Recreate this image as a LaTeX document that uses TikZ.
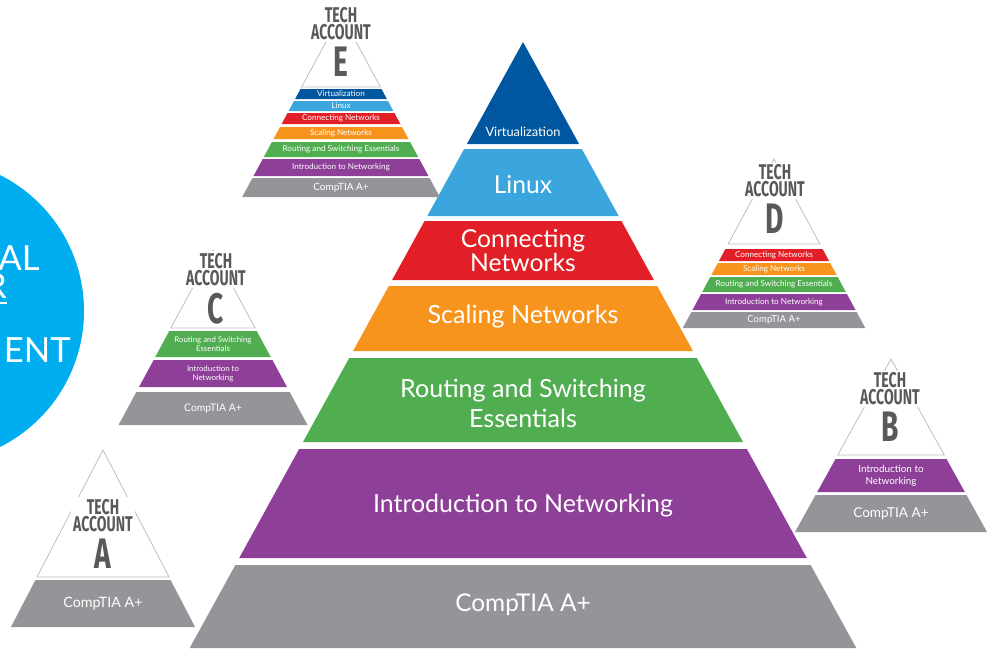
\documentclass[tikz,border=0pt]{standalone}
\usepackage{fontspec}
\setmainfont{Lato}
\newfontfamily\techfont[FakeStretch=0.66]{Fira Sans}
\usetikzlibrary{positioning}
\definecolor{virtblue}{RGB}{0,87,160}
\definecolor{linuxblue}{RGB}{58,166,221}
\definecolor{connred}{RGB}{226,31,38}
\definecolor{scaleorange}{RGB}{247,148,29}
\definecolor{routegreen}{RGB}{80,174,80}
\definecolor{intropurple}{RGB}{142,63,151}
\definecolor{comptiagray}{RGB}{147,149,152}
\definecolor{circlecyan}{RGB}{0,174,239}
\definecolor{techgray}{RGB}{88,89,91}
\definecolor{linegray}{RGB}{188,190,192}
\newcommand{\fs}[2]{\fontsize{#1}{#2}\selectfont}
\newcommand{\pband}[7]{%
  \fill[#3] ({\pcx-\pslope*(#1-\pay)},#1) -- ({\pcx+\pslope*(#1-\pay)},#1)
    -- ({\pcx+\pslope*(#2-\pay)},#2) -- ({\pcx-\pslope*(#2-\pay)},#2) -- cycle;
  \node[lbl, font=#6] (#4) at (\pcx,#5) {#7};}
\newcommand{\poutline}[1]{%
  \draw[outl] (\pcx,\pay) -- ({\pcx-\pslope*(#1-\pay)},#1) -- ({\pcx+\pslope*(#1-\pay)},#1) -- cycle;}

\begin{document}
\begin{tikzpicture}[x=0.75pt, y=-0.75pt,
  lbl/.style={text=white, align=center, inner sep=0pt},
  tech/.style={fill=white, text=techgray, align=center, inner sep=1.5pt, font=\techfont\bfseries\fs{16}{12.8}},
  techletter/.style={fill=white, text=techgray, inner sep=1.5pt, font=\techfont\bfseries\fs{32}{32}},
  outl/.style={draw=linegray, line width=0.6pt, fill=white},
  circtext/.style={text=white, inner sep=0pt, font=\fs{26}{30}}
]
  \useasboundingbox (0,0) rectangle (987,650);
  \clip (0,0) rectangle (987,650);

  \fill[circlecyan] (-68,311) circle[radius=114pt];
  \node[circtext, anchor=base east] (al) at (40,270) {AL};
  \node[circtext, anchor=base east] (r) at (7,298) {R};
  \draw[white, line width=1.1pt] ([yshift=-3.8pt]r.base west) -- ([yshift=-3.8pt]r.base east);
  \node[circtext, anchor=base east] (ent) at (71,362) {ENT};

  \def\pcx{523}\def\pay{42}\def\pslope{0.55}
  \pband{42}{144}{virtblue}{virt}{132}{\fs{9.6}{11}}{Virtualization}
  \pband{149}{216}{linuxblue}{linux}{185}{\fs{18.5}{22}}{Linux}
  \pband{221}{280}{connred}{conn}{251}{\fs{18.5}{16.5}}{Connecting\\Networks}
  \pband{286}{351}{scaleorange}{scale}{317}{\fs{18.8}{22}}{Scaling Networks}
  \pband{358}{442}{routegreen}{route}{403}{\fs{18.8}{22.5}}{Routing and Switching\\Essentials}
  \pband{449}{558}{intropurple}{intro}{506}{\fs{18.7}{22}}{Introduction to Networking}
  \pband{565}{648}{comptiagray}{comptia}{605}{\fs{18.3}{22}}{CompTIA A+}

  \def\pcx{341}\def\pay{14}\def\pslope{0.54}
  \poutline{87}
  \pband{89}{99}{virtblue}{eVirt}{94}{\fs{6.1}{7}}{Virtualization}
  \pband{101}{111}{linuxblue}{eLinux}{106}{\fs{6.1}{7}}{Linux}
  \pband{113}{124}{connred}{eConn}{118.5}{\fs{6.1}{7}}{Connecting Networks}
  \pband{127}{139}{scaleorange}{eScale}{133}{\fs{6.1}{7}}{Scaling Networks}
  \pband{142}{157}{routegreen}{eRoute}{149.5}{\fs{6.1}{7}}{Routing and Switching Essentials}
  \pband{159}{176}{intropurple}{eIntro}{167.5}{\fs{6.1}{7}}{Introduction to Networking}
  \pband{178}{197}{comptiagray}{eComptia}{187.5}{\fs{7.5}{9}}{CompTIA A+}
  \node[tech] (techE) at (341,24) {TECH\\ACCOUNT};
  \node[techletter, below=1.9pt of techE] (letE) {E};

  \def\pcx{774}\def\pay{159}\def\pslope{0.54}
  \poutline{244}
  \pband{249}{261}{connred}{dConn}{255}{\fs{6.1}{7}}{Connecting Networks}
  \pband{263}{275}{scaleorange}{dScale}{269}{\fs{6.1}{7}}{Scaling Networks}
  \pband{277}{292}{routegreen}{dRoute}{284.5}{\fs{6.1}{7}}{Routing and Switching Essentials}
  \pband{294}{310}{intropurple}{dIntro}{302}{\fs{6.1}{7}}{Introduction to Networking}
  \pband{312}{328}{comptiagray}{dComptia}{320}{\fs{7.2}{9}}{CompTIA A+}
  \node[tech] (techD) at (775,181) {TECH\\ACCOUNT};
  \node[techletter, below=1.9pt of techD] (letD) {D};

  \def\pcx{213}\def\pay{250}\def\pslope{0.54}
  \poutline{328}
  \pband{331}{357}{routegreen}{cRoute}{344}{\fs{5.9}{6.75}}{Routing and Switching\\Essentials}
  \pband{360}{387}{intropurple}{cIntro}{373.5}{\fs{5.9}{6.75}}{Introduction to\\Networking}
  \pband{392}{425}{comptiagray}{cComptia}{408.5}{\fs{7.8}{9}}{CompTIA A+}
  \node[tech] (techC) at (216,269.5) {TECH\\ACCOUNT};
  \node[techletter, below=1.9pt of techC] (letC) {C};

  \def\pcx{891}\def\pay{359}\def\pslope{0.555}
  \poutline{455}
  \pband{459}{492}{intropurple}{bIntro}{475.5}{\fs{7.4}{8.75}}{Introduction to\\Networking}
  \pband{495}{532}{comptiagray}{bComptia}{513.5}{\fs{10.2}{12}}{CompTIA A+}
  \node[tech] (techB) at (890,389) {TECH\\ACCOUNT};
  \node[techletter, below=1.9pt of techB] (letB) {B};

  \def\pcx{103}\def\pay{450}\def\pslope{0.52}
  \poutline{577}
  \pband{580}{627}{comptiagray}{aComptia}{603.5}{\fs{10.7}{12}}{CompTIA A+}
  \node[tech] (techA) at (103,515.5) {TECH\\ACCOUNT};
  \node[techletter, below=1.9pt of techA] (letA) {A};
\end{tikzpicture}
\end{document}
